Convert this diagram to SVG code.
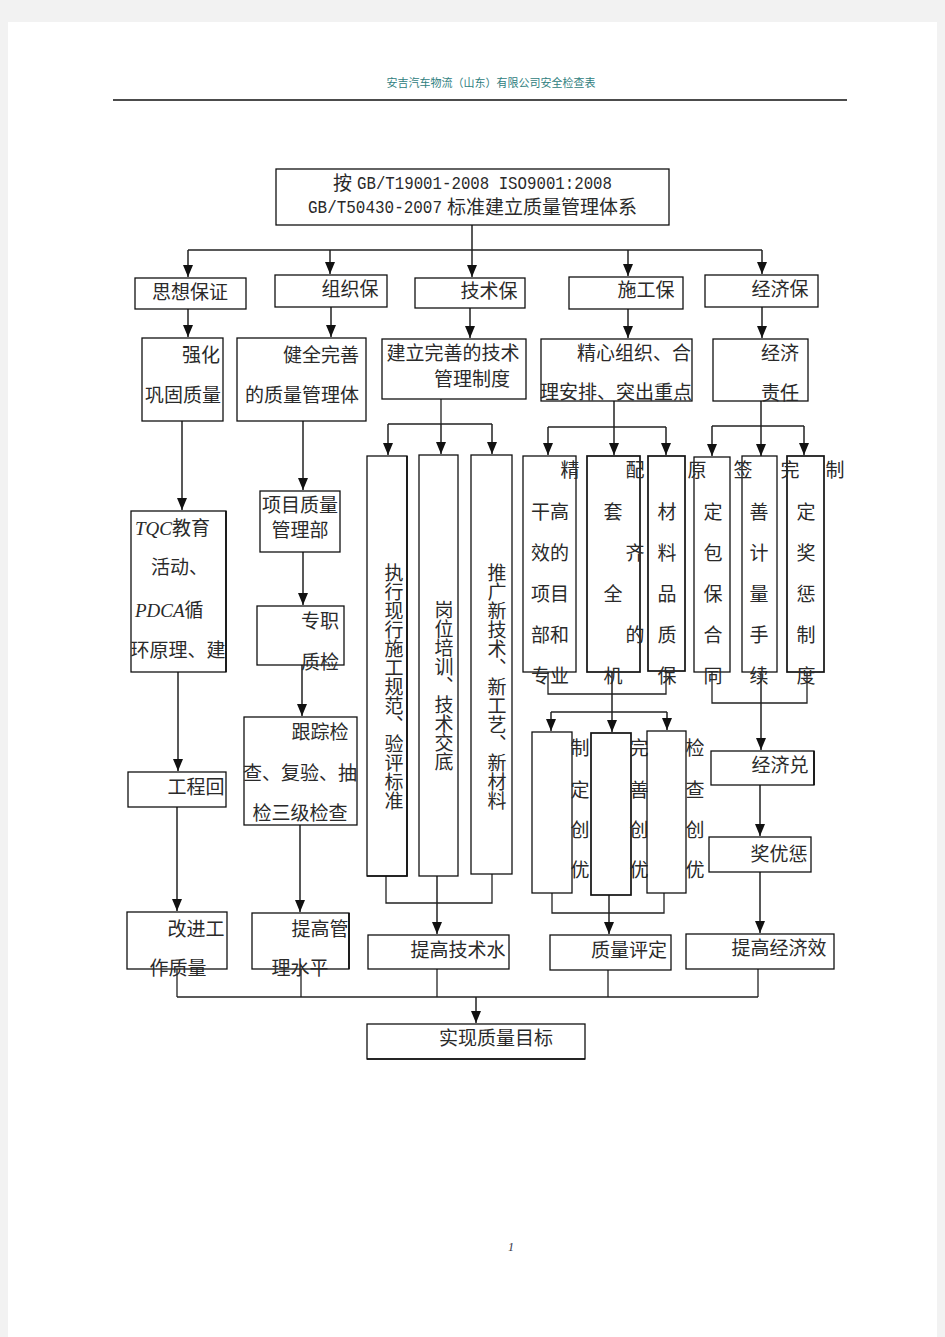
<svg xmlns="http://www.w3.org/2000/svg" width="945" height="1337" viewBox="0 0 945 1337">
<style>
.bx{fill:none;stroke:#111;stroke-width:1.3}
.sh{fill:none;stroke:#111;stroke-width:1.7}
.ln{fill:none;stroke:#222;stroke-width:1.3}
.ar{fill:none;stroke:#222;stroke-width:1.5;marker-end:url(#ah)}
.t{font-family:"Noto Sans CJK SC","Noto Sans",sans-serif;font-size:19px;fill:#2a2a2a}
.m{text-anchor:middle}
.mono{font-family:"Liberation Mono","Noto Sans CJK SC",monospace;font-size:17.5px}
.sc{font-family:"Liberation Serif",serif;font-style:italic}
.v{font-family:"Noto Sans CJK SC",sans-serif;font-size:19px;fill:#2a2a2a;writing-mode:vertical-rl}
</style>
<defs>
<marker id="ah" viewBox="0 0 12 10" refX="12" refY="5" markerWidth="12" markerHeight="10" markerUnits="userSpaceOnUse" orient="auto">
<path d="M0,0 L12,5 L0,10 z" fill="#111"/>
</marker>
</defs>
<rect x="0" y="0" width="945" height="1337" fill="#f2f2f2"/>
<rect x="8" y="22" width="929" height="1315" fill="#fff"/>
<g id="header">
<text x="491" y="87" text-anchor="middle" font-family="Noto Sans CJK SC,sans-serif" font-size="11" fill="#2f8080">安吉汽车物流（山东）有限公司安全检查表</text>
<line x1="113" y1="100" x2="847" y2="100" stroke="#111" stroke-width="1.3"/>
</g>
<g id="connectors">
<path class="ln" d="M188 250 H762"/>
<path class="ar" d="M472 225 V277"/>
<path class="ar" d="M188 250 V277"/>
<path class="ar" d="M330 250 V274"/>
<path class="ar" d="M628 250 V276"/>
<path class="ar" d="M762 250 V274"/>
<path class="ar" d="M188 309 V337"/>
<path class="ar" d="M331 307 V337"/>
<path class="ar" d="M470 308 V338"/>
<path class="ar" d="M628 309 V338"/>
<path class="ar" d="M762 307 V338"/>
<path class="ar" d="M182 421 V510"/>
<path class="ar" d="M178 672 V771"/>
<path class="ar" d="M177 807 V911"/>
<path class="ln" d="M177 969 V997"/>
<path class="ar" d="M303 421 V490"/>
<path class="ar" d="M303 552 V605"/>
<path class="ar" d="M302 665 V716"/>
<path class="ar" d="M300 825 V912"/>
<path class="ln" d="M301 969 V997"/>
<path class="ln" d="M441 399 V424 M388 424 H492"/>
<path class="ar" d="M388 424 V455"/>
<path class="ar" d="M441 424 V454"/>
<path class="ar" d="M492 424 V454"/>
<path class="ln" d="M386 876 V903 H492 V874"/>
<path class="ar" d="M437 876 V934"/>
<path class="ln" d="M437 969 V997"/>
<path class="ar" d="M614 401 V455"/>
<path class="ln" d="M548 427 H666"/>
<path class="ar" d="M548 427 V455"/>
<path class="ar" d="M666 427 V455"/>
<path class="ln" d="M548 672 V694 H666 V671"/>
<path class="ar" d="M612 672 V732"/>
<path class="ln" d="M551 712 H667"/>
<path class="ar" d="M551 712 V731"/>
<path class="ar" d="M667 712 V730"/>
<path class="ln" d="M552 893 V913 H664 V893"/>
<path class="ar" d="M609 895 V934"/>
<path class="ln" d="M608 970 V997"/>
<path class="ar" d="M761 401 V456"/>
<path class="ln" d="M712 426 H804"/>
<path class="ar" d="M712 426 V456"/>
<path class="ar" d="M804 426 V455"/>
<path class="ln" d="M712 672 V703 H807 V672"/>
<path class="ar" d="M761 672 V750"/>
<path class="ar" d="M760 785 V836"/>
<path class="ar" d="M760 872 V933"/>
<path class="ln" d="M758 969 V997"/>
<path class="ln" d="M177 997 H758"/>
<path class="ar" d="M476 997 V1023"/>
</g>
<g id="n-top">
<rect class="bx" x="276" y="169" width="393" height="56"/>
<text class="t" x="333" y="190">按</text>
<text class="t mono" x="357" y="189" textLength="255" lengthAdjust="spacingAndGlyphs">GB/T19001-2008 ISO9001:2008</text>
<text class="t mono" x="308" y="213" textLength="134" lengthAdjust="spacingAndGlyphs">GB/T50430-2007</text>
<text class="t" x="447" y="214">标准建立质量管理体系</text>
</g>
<g id="n-sixiang"><rect class="bx" x="135" y="278" width="111" height="31"/><text class="t m" x="190" y="299">思想保证</text></g>
<g id="n-zuzhi"><rect class="bx" x="275" y="275" width="112" height="32"/><text class="t m" x="350" y="296">组织保</text></g>
<g id="n-jishu"><rect class="bx" x="415" y="278" width="110" height="30"/><text class="t m" x="489" y="298">技术保</text></g>
<g id="n-shigong"><rect class="bx" x="569" y="277" width="114" height="32"/><text class="t m" x="646" y="297">施工保</text></g>
<g id="n-jingji"><rect class="bx" x="705" y="275" width="113" height="32"/><text class="t m" x="780" y="296">经济保</text></g>
<g id="n-qianghua"><rect class="bx" x="142" y="338" width="81" height="83"/><text class="t m" x="201" y="362">强化</text><text class="t m" x="183" y="402">巩固质量</text></g>
<g id="n-jianquan"><rect class="bx" x="237" y="338" width="129" height="83"/><text class="t m" x="321" y="362">健全完善</text><text class="t m" x="302" y="402">的质量管理体</text></g>
<g id="n-jianli"><rect class="bx" x="382" y="339" width="144" height="60"/><text class="t m" x="453" y="360">建立完善的技术</text><text class="t m" x="472" y="386">管理制度</text></g>
<g id="n-jingxin"><rect class="bx" x="541" y="339" width="151" height="62"/><text class="t m" x="634" y="360">精心组织、合</text><text class="t m" x="616" y="399">理安排、突出重点</text></g>
<g id="n-zeren"><rect class="bx" x="713" y="339" width="95" height="62"/><text class="t m" x="780" y="360">经济</text><text class="t m" x="780" y="400">责任</text></g>
<g id="n-tqc"><rect class="bx" x="131" y="511" width="95" height="161"/><path class="sh" d="M226 511 V672"/>
<text class="t" x="135" y="535"><tspan class="sc">TQC</tspan>教育</text>
<text class="t" x="151" y="574">活动、</text>
<text class="t" x="135" y="617"><tspan class="sc">PDCA</tspan>循</text>
<text class="t m" x="178" y="657">环原理、建</text></g>
<g id="n-huifang"><rect class="bx" x="128" y="772" width="98" height="35"/><text class="t m" x="196" y="794">工程回</text></g>
<g id="n-gaijin"><rect class="bx" x="127" y="912" width="100" height="57"/><text class="t m" x="196" y="936">改进工</text><text class="t m" x="178" y="975">作质量</text></g>
<g id="n-xiangmu"><rect class="bx" x="260" y="491" width="80" height="61"/><text class="t m" x="300" y="512">项目质量</text><text class="t m" x="300" y="537">管理部</text></g>
<g id="n-zhuanzhi"><rect class="bx" x="257" y="606" width="87" height="59"/><text class="t m" x="320" y="628">专职</text><text class="t m" x="320" y="669">质检</text></g>
<g id="n-genzong"><rect class="bx" x="244" y="717" width="113" height="108"/><text class="t m" x="320" y="739">跟踪检</text><text class="t m" x="300" y="780">查、复验、抽</text><text class="t m" x="300" y="820">检三级检查</text></g>
<g id="n-tigaoguan"><rect class="bx" x="252" y="913" width="97" height="56"/><path class="sh" d="M349 913 V969"/><text class="t m" x="320" y="936">提高管</text><text class="t m" x="300" y="975">理水平</text></g>
<g id="n-zhixing"><rect class="bx" x="367" y="456" width="40" height="420"/><path class="sh" d="M407 456 V876 H367"/><text class="v" x="394" y="563">执行现行施工规范、验评标准</text></g>
<g id="n-gangwei"><rect class="bx" x="419" y="455" width="39" height="421"/><text class="v" x="444" y="600">岗位培训、技术交底</text></g>
<g id="n-tuiguang"><rect class="bx" x="471" y="455" width="41" height="419"/><text class="v" x="497" y="563">推广新技术、新工艺、新材料</text></g>
<g id="n-jinggan"><rect class="bx" x="523" y="456" width="53" height="216"/>
<text class="t m" x="570" y="477">精</text><text class="t m" x="550" y="519">干高</text><text class="t m" x="550" y="560">效的</text><text class="t m" x="550" y="601">项目</text><text class="t m" x="550" y="642">部和</text><text class="t m" x="550" y="683">专业</text></g>
<g id="n-peitao"><rect class="sh" x="587" y="456" width="53" height="216"/>
<text class="t m" x="635" y="477">配</text><text class="t m" x="613" y="519">套</text><text class="t m" x="635" y="560">齐</text><text class="t m" x="613" y="601">全</text><text class="t m" x="635" y="642">的</text><text class="t m" x="613" y="683">机</text></g>
<g id="n-cailiao"><rect class="sh" x="648" y="456" width="37" height="215"/>
<text class="t m" x="667" y="519">材</text><text class="t m" x="667" y="560">料</text><text class="t m" x="667" y="601">品</text><text class="t m" x="667" y="642">质</text><text class="t m" x="667" y="683">保</text></g>
<g id="n-baohe"><rect class="bx" x="694" y="457" width="36" height="215"/>
<text class="t m" x="697" y="477">原</text><text class="t m" x="713" y="519">定</text><text class="t m" x="713" y="560">包</text><text class="t m" x="713" y="601">保</text><text class="t m" x="713" y="642">合</text><text class="t m" x="713" y="683">同</text></g>
<g id="n-jiliang"><rect class="bx" x="742" y="456" width="35" height="216"/>
<text class="t m" x="743" y="477">签</text><text class="t m" x="759" y="519">善</text><text class="t m" x="759" y="560">计</text><text class="t m" x="759" y="601">量</text><text class="t m" x="759" y="642">手</text><text class="t m" x="759" y="683">续</text></g>
<g id="n-jiangcheng"><rect class="sh" x="787" y="456" width="37" height="216"/>
<text class="t m" x="790" y="477">完</text><text class="t m" x="835" y="477">制</text><text class="t m" x="806" y="519">定</text><text class="t m" x="806" y="560">奖</text><text class="t m" x="806" y="601">惩</text><text class="t m" x="806" y="642">制</text><text class="t m" x="806" y="683">度</text></g>
<g id="n-zhiding"><rect class="bx" x="532" y="732" width="40" height="161"/>
<text class="t m" x="580" y="755">制</text><text class="t m" x="580" y="797">定</text><text class="t m" x="580" y="837">创</text><text class="t m" x="580" y="877">优</text></g>
<g id="n-wanshan"><rect class="sh" x="591" y="733" width="40" height="162"/>
<text class="t m" x="639" y="755">完</text><text class="t m" x="639" y="797">善</text><text class="t m" x="639" y="837">创</text><text class="t m" x="639" y="877">优</text></g>
<g id="n-jiancha"><rect class="bx" x="647" y="731" width="39" height="162"/>
<text class="t m" x="695" y="755">检</text><text class="t m" x="695" y="797">查</text><text class="t m" x="695" y="837">创</text><text class="t m" x="695" y="877">优</text></g>
<g id="n-duixian"><rect class="bx" x="711" y="751" width="103" height="34"/><path class="sh" d="M814 751 V785"/><text class="t m" x="780" y="772">经济兑</text></g>
<g id="n-jiangyou"><rect class="bx" x="709" y="837" width="102" height="35"/><text class="t m" x="779" y="861">奖优惩</text></g>
<g id="n-jishushui"><rect class="bx" x="368" y="935" width="141" height="34"/><text class="t m" x="458" y="957">提高技术水</text></g>
<g id="n-pingding"><rect class="bx" x="550" y="935" width="121" height="35"/><text class="t m" x="629" y="957">质量评定</text></g>
<g id="n-jingjixiao"><rect class="bx" x="686" y="934" width="148" height="35"/><text class="t m" x="779" y="955">提高经济效</text></g>
<g id="n-final"><rect class="bx" x="367" y="1024" width="218" height="35"/><path class="sh" d="M367 1059 H585"/><text class="t m" x="496" y="1045">实现质量目标</text></g>
<text x="508" y="1251" font-family="Liberation Serif,serif" font-style="italic" font-size="12" fill="#334">1</text>
</svg>
